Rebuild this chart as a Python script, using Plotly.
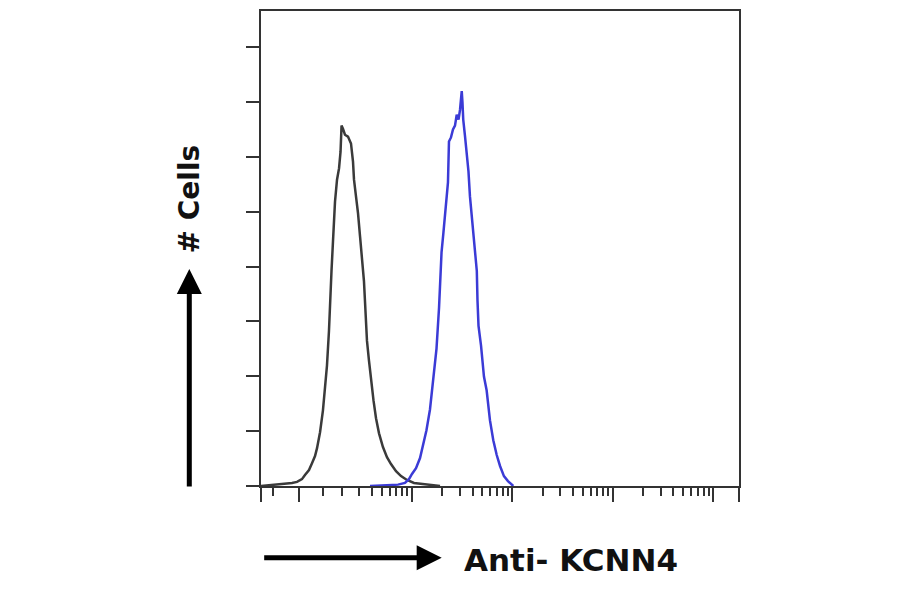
import plotly.graph_objects as go

# ---- data (log10 fluorescence intensity, cell counts) ----
CONTROL_LOG_FL = [0.498, 0.637, 0.736, 0.806, 0.856, 0.905, 0.935, 0.975, 1.005, 1.035,
                  1.055, 1.085, 1.114, 1.134, 1.154, 1.174, 1.184, 1.199, 1.214, 1.234,
                  1.254, 1.274, 1.289, 1.299, 1.313, 1.333, 1.363, 1.393, 1.413, 1.423,
                  1.443, 1.463, 1.483, 1.502, 1.522, 1.537, 1.552, 1.572, 1.592, 1.617,
                  1.642, 1.672, 1.711, 1.751, 1.791, 1.841, 1.891, 1.950, 2.020, 2.100,
                  2.199, 2.279]
CONTROL_COUNTS = [0.0, 0.4, 0.7, 1.1, 1.5, 2.5, 4.0, 5.8, 8.3, 10.9,
                  13.8, 19.6, 27.6, 36.7, 43.9, 56.6, 67.5, 78.4, 89.3, 103.7,
                  111.7, 115.8, 121.9, 131.4, 130.3, 128.1, 127.4, 124.9, 118.3, 111.7,
                  105.5, 99.4, 91.0, 83.8, 74.7, 63.9, 53.0, 45.7, 38.5, 31.2,
                  24.7, 19.2, 14.2, 10.5, 8.0, 5.4, 3.6, 2.2, 1.1, 0.7,
                  0.4, 0.0]

KCNN4_LOG_FL = [1.582, 1.731, 1.861, 1.930, 1.970, 2.000, 2.040, 2.080, 2.109, 2.144,
                2.179, 2.209, 2.244, 2.269, 2.279, 2.294, 2.313, 2.333, 2.358, 2.368,
                2.388, 2.408, 2.428, 2.445, 2.463, 2.478, 2.495, 2.502, 2.510, 2.527,
                2.542, 2.562, 2.577, 2.597, 2.617, 2.637, 2.645, 2.652, 2.662, 2.687,
                2.716, 2.743, 2.776, 2.809, 2.843, 2.876, 2.915, 2.955, 3.008]
KCNN4_COUNTS = [0.0, 0.4, 0.5, 1.1, 2.5, 4.4, 6.5, 10.2, 14.9, 20.3,
                27.9, 37.7, 50.1, 65.0, 74.4, 85.2, 92.5, 101.6, 110.7, 125.6,
                127.1, 130.0, 131.4, 135.4, 133.6, 137.2, 144.0, 140.1, 133.6, 127.8,
                122.0, 114.7, 105.5, 98.3, 91.0, 83.8, 78.4, 67.5, 58.4, 51.2,
                39.9, 34.8, 23.9, 16.7, 11.3, 7.3, 3.6, 1.8, 0.0]

# ---- axes ----
X_LOG_RANGE = [0.4975, 5.254]
Y_RANGE = [0, 173.2]
Y_TICKS = [0, 20, 40, 60, 80, 100, 120, 140, 160]
X_MAJOR_TICKS = [7.5, 100, 1000, 10000, 100000]
X_MINOR_TICKS = [4.1, 13, 20, 30, 40, 50, 60, 70, 80, 90,
                 200, 300, 400, 500, 600, 700, 800, 900,
                 2000, 3000, 4000, 5000, 6000, 7000, 8000, 9000,
                 20000, 30000, 40000, 50000, 60000, 70000, 80000, 90000]

AXIS_COLOR = "#333333"

fig = go.Figure()
fig.add_trace(go.Scatter(
    x=[10 ** v for v in CONTROL_LOG_FL], y=CONTROL_COUNTS, mode="lines",
    line=dict(color="#3a3a3a", width=2.5), showlegend=False, hoverinfo="skip"))
fig.add_trace(go.Scatter(
    x=[10 ** v for v in KCNN4_LOG_FL], y=KCNN4_COUNTS, mode="lines",
    line=dict(color="#3b3bd6", width=2.5), showlegend=False, hoverinfo="skip"))

major = [10 ** X_LOG_RANGE[0]] + X_MAJOR_TICKS + [10 ** X_LOG_RANGE[1]]

fig.update_layout(
    width=900, height=594,
    margin=dict(l=253, r=169, t=1, b=116, pad=0),
    paper_bgcolor="white", plot_bgcolor="white",
    showlegend=False,
    xaxis=dict(
        type="log", range=X_LOG_RANGE, showgrid=False, zeroline=False,
        showline=True, linecolor=AXIS_COLOR, linewidth=2, mirror=True,
        tickmode="array", tickvals=major, ticks="outside", ticklen=14,
        tickwidth=2, tickcolor=AXIS_COLOR, showticklabels=False,
        minor=dict(tickmode="array", tickvals=X_MINOR_TICKS, ticks="outside",
                   ticklen=8, tickwidth=2, tickcolor=AXIS_COLOR, showgrid=False),
    ),
    yaxis=dict(
        range=Y_RANGE, showgrid=False, zeroline=False,
        showline=True, linecolor=AXIS_COLOR, linewidth=2, mirror=True,
        tickmode="array", tickvals=Y_TICKS, ticks="outside", ticklen=13,
        tickwidth=2, tickcolor=AXIS_COLOR, showticklabels=False,
    ),
)

fig.add_annotation(xref="paper", yref="paper", x=-0.150, y=0.604,
                   text="<b># Cells</b>", textangle=-90, showarrow=False,
                   font=dict(family="DejaVu Sans", size=28, color="#111111"),
                   xanchor="center", yanchor="middle")
fig.add_annotation(xref="paper", yref="paper", x=0.6485, y=-0.155,
                   text="<b>Anti- KCNN4</b>", showarrow=False,
                   font=dict(family="DejaVu Sans", size=31, color="#111111"),
                   xanchor="center", yanchor="middle")
# axis direction arrows
fig.add_annotation(xref="paper", yref="paper", x=-0.150, y=0.457, ax=0, ay=219,
                   text="", showarrow=True, arrowhead=2, arrowsize=1,
                   arrowwidth=5, arrowcolor="#000000")
fig.add_annotation(xref="paper", yref="paper", x=0.378, y=-0.151, ax=-179, ay=0,
                   text="", showarrow=True, arrowhead=2, arrowsize=1,
                   arrowwidth=5, arrowcolor="#000000")

fig.write_html("out.html")
